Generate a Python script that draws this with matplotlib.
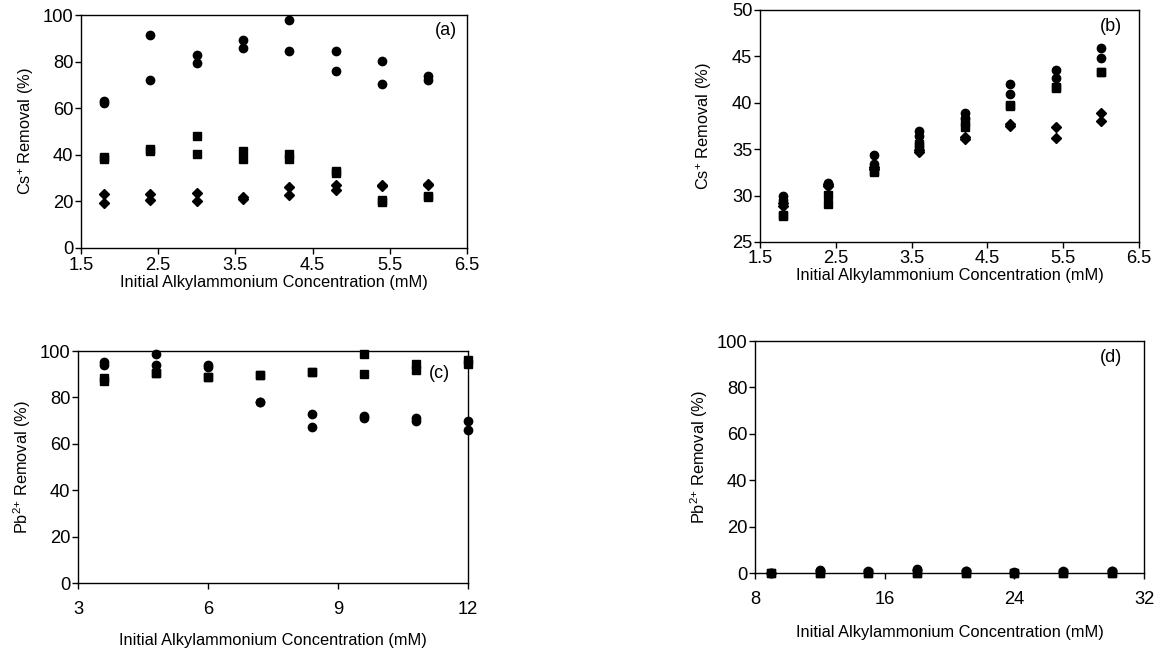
import matplotlib
matplotlib.use("Agg")
import matplotlib.pyplot as plt

plt.rcParams['font.family'] = ['Liberation Sans', 'DejaVu Sans']
plt.rcParams['mathtext.fontset'] = 'custom'
plt.rcParams['mathtext.rm'] = 'Liberation Sans'
plt.rcParams['mathtext.it'] = 'Liberation Sans:italic'
plt.rcParams['mathtext.bf'] = 'Liberation Sans:bold'

# ---------------- data ----------------
# Panel (a): Cs+ removal
a_x = [1.8, 2.4, 3.0, 3.6, 4.2, 4.8, 5.4, 6.0]
a_circ1 = [63.0, 91.5, 82.7, 89.4, 97.9, 84.5, 80.1, 73.9]
a_circ2 = [62.3, 72.3, 79.2, 85.7, 84.5, 76.1, 70.3, 72.3]
a_sq1 = [39.0, 42.4, 48.0, 41.5, 40.3, 33.0, 20.5, 22.3]
a_sq2 = [38.0, 41.5, 40.3, 38.4, 38.4, 32.0, 19.8, 21.9]
a_dia1 = [23.2, 23.1, 23.8, 21.8, 26.2, 27.2, 26.9, 27.5]
a_dia2 = [19.2, 20.5, 20.3, 21.2, 22.9, 24.8, 26.6, 27.2]

# Panel (b): Cs+ removal
b_x = [1.8, 2.4, 3.0, 3.6, 4.2, 4.8, 5.4, 6.0]
b_circ1 = [30.0, 31.4, 34.4, 37.0, 38.9, 42.0, 43.5, 45.9]
b_circ2 = [29.5, 31.1, 33.4, 36.4, 38.4, 41.0, 42.7, 44.8]
b_sq1 = [27.9, 30.1, 32.7, 35.6, 37.9, 39.8, 41.7, 43.3]
b_sq2 = [27.8, 29.1, 32.5, 35.3, 37.4, 39.7, 41.6, 43.3]
b_dia1 = [29.2, 31.2, 33.1, 34.9, 36.3, 37.7, 37.4, 38.9]
b_dia2 = [28.9, 31.0, 32.9, 34.7, 36.1, 37.5, 36.2, 38.0]

# Panel (c): Pb2+ removal
c_x = [3.6, 4.8, 6.0, 7.2, 8.4, 9.6, 10.8, 12.0]
c_circ1 = [95.3, 98.6, 94.1, 78.1, 72.8, 72.1, 71.2, 69.9]
c_circ2 = [93.8, 93.8, 93.1, 78.1, 67.3, 71.3, 69.9, 65.9]
c_sq1 = [88.5, 90.7, 88.7, 89.5, 91.0, 98.6, 94.3, 96.3]
c_sq2 = [87.0, 90.7, 88.7, 89.5, 91.0, 90.3, 92.0, 94.3]

# Panel (d): Pb2+ removal
d_x = [9, 12, 15, 18, 21, 24, 27, 30]
d_circ1 = [0.2, 1.2, 1.0, 1.8, 1.0, 0.4, 0.8, 1.0]
d_circ2 = [0.0, 0.8, 0.6, 1.2, 0.7, 0.2, 0.5, 0.8]
d_sq1 = [0.1, 0.2, 0.2, 0.2, 0.2, 0.0, 0.2, 0.1]
d_sq2 = [0.0, 0.0, 0.0, 0.0, 0.0, 0.0, 0.0, 0.0]

xlabel = "Initial Alkylammonium Concentration (mM)"
ylabel_cs = "Cs$^{{+}}$ Removal (%)"
ylabel_pb = "Pb$^{2{+}}$ Removal (%)"

# ---------------- figure ----------------
W, H = 1161, 653
fig = plt.figure(figsize=(W / 100, H / 100), dpi=100)


def px_axes(x0, y0, x1, y1):
    return fig.add_axes([x0 / W, 1 - y1 / H, (x1 - x0) / W, (y1 - y0) / H])


circ = dict(marker='o', ms=6.0, color='black', ls='none', clip_on=False, zorder=3)
sq = dict(marker='s', ms=5.6, color='black', ls='none', clip_on=False, zorder=3)
dia = dict(marker='D', ms=4.8, color='black', ls='none', clip_on=False, zorder=3)

TICK_FS = 13.2
LAB_FS = 11.8


def style(ax):
    for s in ax.spines.values():
        s.set_linewidth(1.0)
        s.set_color('black')
    ax.tick_params(direction='out', length=4, width=1, labelsize=TICK_FS,
                   top=False, right=False, pad=1.5)


axA = px_axes(81, 15, 467, 248)
axA.plot(a_x, a_circ1, **circ); axA.plot(a_x, a_circ2, **circ)
axA.plot(a_x, a_sq1, **sq); axA.plot(a_x, a_sq2, **sq)
axA.plot(a_x, a_dia1, **dia); axA.plot(a_x, a_dia2, **dia)
axA.set_xlim(1.5, 6.5); axA.set_ylim(0, 100)
axA.set_xticks([1.5, 2.5, 3.5, 4.5, 5.5, 6.5])
axA.set_xticklabels(['1.5', '2.5', '3.5', '4.5', '5.5', '6.5'])
axA.set_yticks([0, 20, 40, 60, 80, 100])
style(axA)
axA.tick_params(axis='x', pad=2.5)
axA.set_xlabel(xlabel, fontsize=LAB_FS, labelpad=0.5)
axA.set_ylabel(ylabel_cs, fontsize=LAB_FS, labelpad=5)
axA.text(0.975, 0.935, "(a)", transform=axA.transAxes, ha='right', va='center', fontsize=13)

axB = px_axes(760, 10, 1139, 242)
axB.plot(b_x, b_circ1, **circ); axB.plot(b_x, b_circ2, **circ)
axB.plot(b_x, b_sq1, **sq); axB.plot(b_x, b_sq2, **sq)
axB.plot(b_x, b_dia1, **dia); axB.plot(b_x, b_dia2, **dia)
axB.set_xlim(1.5, 6.5); axB.set_ylim(25, 50)
axB.set_xticks([1.5, 2.5, 3.5, 4.5, 5.5, 6.5])
axB.set_xticklabels(['1.5', '2.5', '3.5', '4.5', '5.5', '6.5'])
axB.set_yticks([25, 30, 35, 40, 45, 50])
style(axB)
axB.tick_params(axis='x', pad=2.0)
axB.set_xlabel(xlabel, fontsize=LAB_FS, labelpad=0.5)
axB.set_ylabel(ylabel_cs, fontsize=LAB_FS, labelpad=13)
axB.text(0.955, 0.93, "(b)", transform=axB.transAxes, ha='right', va='center', fontsize=13)

axC = px_axes(78, 351, 468, 583)
axC.plot(c_x, c_circ1, **circ); axC.plot(c_x, c_circ2, **circ)
axC.plot(c_x, c_sq1, **sq); axC.plot(c_x, c_sq2, **sq)
axC.set_xlim(3, 12); axC.set_ylim(0, 100)
axC.set_xticks([3, 6, 9, 12])
axC.set_yticks([0, 20, 40, 60, 80, 100])
style(axC)
axC.tick_params(axis='x', pad=9)
axC.set_xlabel(xlabel, fontsize=LAB_FS, labelpad=11)
axC.set_ylabel(ylabel_pb, fontsize=LAB_FS, labelpad=5)
axC.text(0.955, 0.905, "(c)", transform=axC.transAxes, ha='right', va='center', fontsize=13)

axD = px_axes(755, 341, 1144, 573)
axD.plot(d_x, d_circ1, **circ); axD.plot(d_x, d_circ2, **circ)
axD.plot(d_x, d_sq1, **sq); axD.plot(d_x, d_sq2, **sq)
axD.set_xlim(8, 32); axD.set_ylim(0, 100)
axD.set_xticks([8, 16, 24, 32])
axD.set_yticks([0, 20, 40, 60, 80, 100])
style(axD)
axD.tick_params(axis='x', pad=9)
axD.set_xlabel(xlabel, fontsize=LAB_FS, labelpad=12)
axD.set_ylabel(ylabel_pb, fontsize=LAB_FS, labelpad=5)
axD.text(0.945, 0.93, "(d)", transform=axD.transAxes, ha='right', va='center', fontsize=13)

fig.savefig("out.png", dpi=100, facecolor='white')
